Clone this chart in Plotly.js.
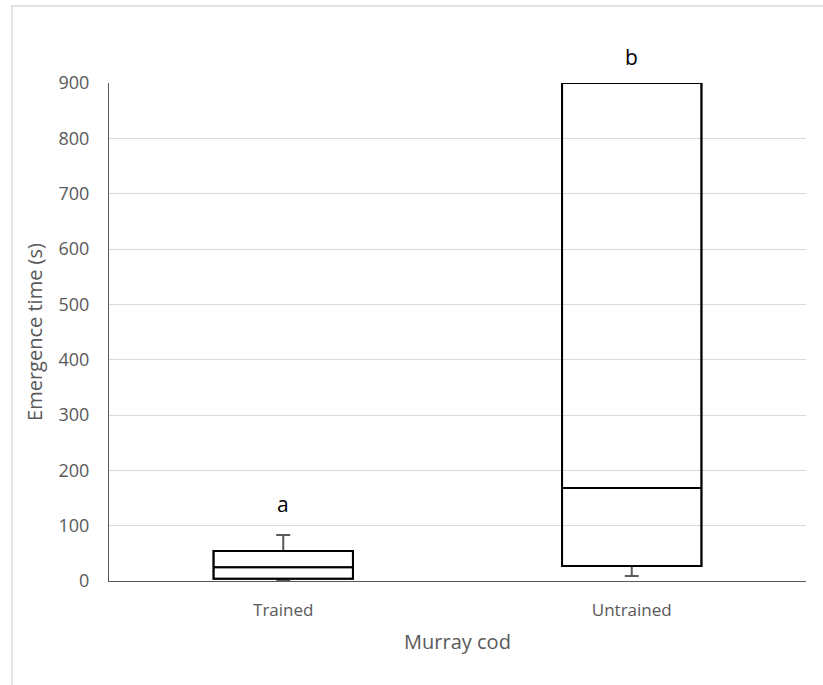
<!DOCTYPE html>
<html>
<head>
<meta charset="utf-8">
<script src="https://cdn.plot.ly/plotly-3.0.1.min.js"></script>
<style>html,body{margin:0;padding:0;background:#fff;}#chart{width:823px;height:685px;}</style>
</head>
<body>
<div id="chart"></div>
<script>
var groups = ['Trained', 'Untrained'];
var lowerWhisker = [1, 9];
var q1Values = [4, 27];
var medianValues = [25, 168];
var q3Values = [54, 900];
var upperWhisker = [83, 900];
var letters = ['a', 'b'];
var letterY = [140, 947];
var yTicks = [0, 100, 200, 300, 400, 500, 600, 700, 800, 900];
var yMax = 900;

var whiskerTrace = {
  type: 'box', x: groups,
  q1: q1Values, median: medianValues, q3: q3Values,
  lowerfence: lowerWhisker, upperfence: upperWhisker,
  fillcolor: 'rgba(255,255,255,0)',
  line: {color: '#595959', width: 2},
  whiskerwidth: 0.1, width: 0.4, boxpoints: false,
  hoverinfo: 'skip', showlegend: false
};

var boxTrace = {
  type: 'box', x: groups,
  q1: q1Values, median: medianValues, q3: q3Values,
  lowerfence: q1Values, upperfence: q3Values,
  fillcolor: 'rgba(255,255,255,0)',
  line: {color: '#000000', width: 2},
  whiskerwidth: 0, width: 0.4, boxpoints: false,
  hoverinfo: 'skip', showlegend: false
};

var annotations = groups.map(function (g, i) {
  return {x: g, xref: 'x', y: letterY[i] / yMax, yref: 'paper', yanchor: 'middle',
    text: letters[i], showarrow: false,
    font: {family: 'Open Sans, sans-serif', size: 21, color: '#000000'}};
});

var layout = {
  width: 823, height: 685,
  margin: {l: 109, r: 17, t: 83, b: 104},
  paper_bgcolor: '#ffffff', plot_bgcolor: '#ffffff',
  font: {family: 'Open Sans, sans-serif', color: '#595959'},
  boxmode: 'overlay',
  xaxis: {
    type: 'category', range: [-0.5, 1.5], showgrid: false, showline: true,
    linecolor: '#595959', linewidth: 1, ticks: '', ticklabelstandoff: 14,
    tickfont: {size: 17, color: '#595959'},
    title: {text: 'Murray cod', font: {size: 20, color: '#595959'}, standoff: 14}
  },
  yaxis: {
    range: [0, yMax], tickvals: yTicks, showgrid: true, gridcolor: '#d9d9d9', gridwidth: 1,
    showline: true, linecolor: '#595959', linewidth: 1, zeroline: false, ticks: '',
    tickfont: {size: 18, color: '#595959'}, ticklabelstandoff: 15,
    title: {text: 'Emergence time (s)', font: {size: 20, color: '#595959'}, standoff: 10}
  },
  annotations: annotations,
  shapes: [{type: 'rect', xref: 'paper', yref: 'paper', x0: -0.139, x1: 1.2, y0: -0.3, y1: 1.1546,
    line: {color: '#d9d9d9', width: 1.5}, fillcolor: 'rgba(0,0,0,0)', layer: 'below'}]
};

Plotly.newPlot('chart', [whiskerTrace, boxTrace], layout, {displayModeBar: false, staticPlot: true});
</script>
</body>
</html>
